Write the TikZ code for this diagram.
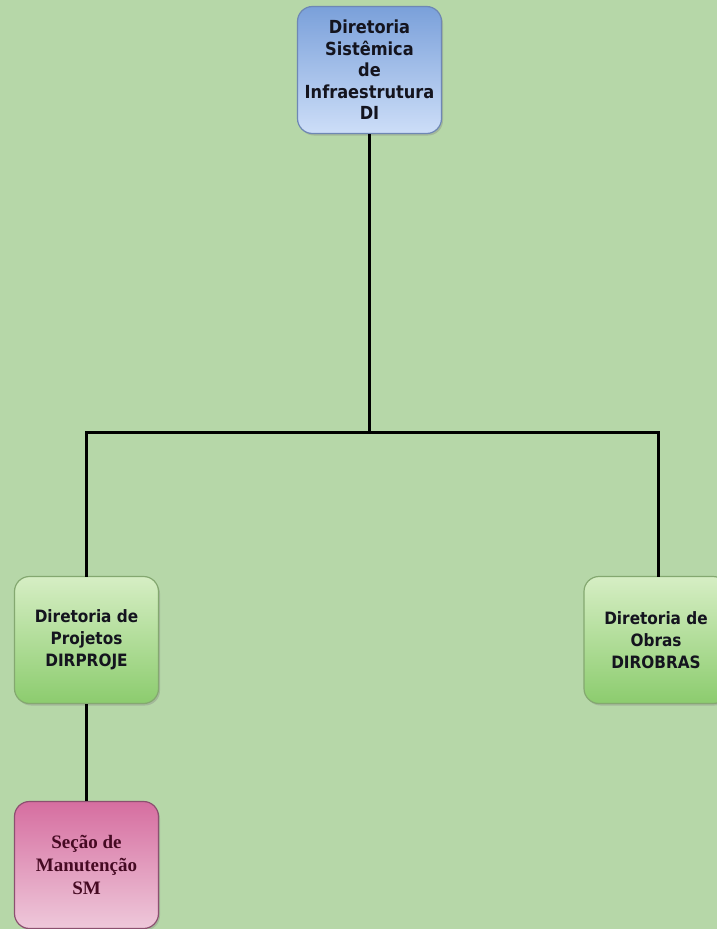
\documentclass[tikz,border=0pt]{standalone}
\usepackage{fontspec}
\setmainfont{Liberation Serif}
\newfontfamily\boxsans{DejaVu Sans Condensed}
\usetikzlibrary{shadows}
\definecolor{bg}{RGB}{182,215,168}
\definecolor{bluetop}{RGB}{122,160,218}
\definecolor{bluebot}{RGB}{205,222,248}
\definecolor{blueborder}{RGB}{110,135,180}
\definecolor{greentop}{RGB}{214,238,196}
\definecolor{greenbot}{RGB}{140,204,110}
\definecolor{greenborder}{RGB}{132,168,112}
\definecolor{pinktop}{RGB}{214,110,160}
\definecolor{pinkbot}{RGB}{238,200,218}
\definecolor{pinkborder}{RGB}{140,80,112}
\definecolor{pinktext}{RGB}{70,10,35}
\definecolor{darktext}{RGB}{20,20,30}
\tikzset{
  orgbox/.style={rectangle, rounded corners=15pt, minimum width=144pt, minimum height=127pt,
    inner sep=0pt, align=center, line width=1.2pt,
    drop shadow={shadow xshift=1.5pt, shadow yshift=-2pt, opacity=0.35}},
  bluebox/.style={orgbox, draw=blueborder, top color=bluetop, bottom color=bluebot,
    font=\boxsans\bfseries\fontsize{18}{21.5}\selectfont, text=darktext},
  greenbox/.style={orgbox, draw=greenborder, top color=greentop, bottom color=greenbot,
    font=\boxsans\bfseries\fontsize{17}{22}\selectfont, text=darktext},
  pinkbox/.style={orgbox, draw=pinkborder, top color=pinktop, bottom color=pinkbot,
    font=\bfseries\fontsize{19}{23}\selectfont, text=pinktext},
  link/.style={draw=black, line width=3pt}
}
\begin{document}
\begin{tikzpicture}[x=1pt,y=-1pt]
\useasboundingbox (0,0) rectangle (717,929);
\fill[bg] (0,0) rectangle (717,929);
\clip (0,0) rectangle (717,929);
\node[bluebox] (di) at (369.5,70) {Diretoria\\Sistêmica\\de\\Infraestrutura\\DI};
\node[greenbox] (dp) at (86.5,640) {Diretoria de\\Projetos\\DIRPROJE};
\node[greenbox] (do) at (656,640) {Diretoria de\\Obras\\DIROBRAS};
\node[pinkbox] (sm) at (86.5,865) {Seção de\\Manutenção\\SM};
\coordinate (j) at (369.5,432);
\draw[link] (di.south) -- (j);
\draw[link, line cap=rect] (dp.north) |- (j) -| ([xshift=2pt]do.north);
\draw[link] (dp.south) -- (sm.north);
\end{tikzpicture}
\end{document}
